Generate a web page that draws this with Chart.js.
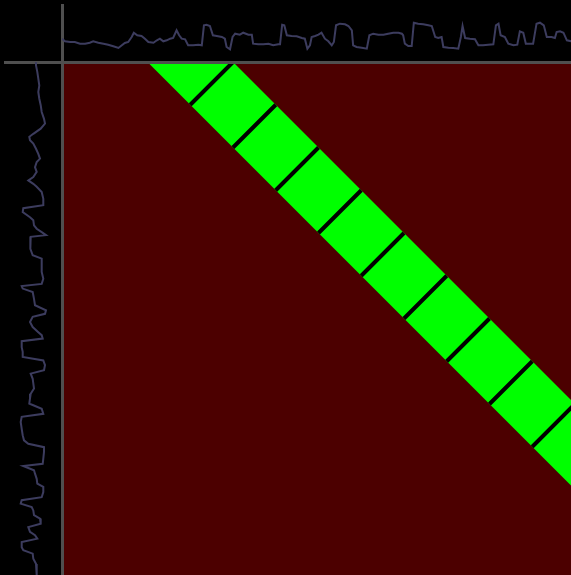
<!DOCTYPE html>
<html>
<head>
<meta charset="utf-8">
<script src="https://cdn.jsdelivr.net/npm/chart.js@4"></script>
<style>
  html, body { margin: 0; padding: 0; background: #000; overflow: hidden; }
  canvas { position: absolute; left: 0; top: 0; }
</style>
</head>
<body>
<canvas id="mainChart" width="575" height="575"></canvas>
<canvas id="topChart" width="575" height="575"></canvas>
<canvas id="leftChart" width="575" height="575"></canvas>
<script>
// time span shared by all three panels
const timeMax = 12;

// signal shown above the matrix
const topTime = [0, 0.07, 0.19, 0.3, 0.42, 0.54, 0.65, 0.73, 0.85, 0.97, 1.08, 1.2, 1.32, 1.4, 1.47, 1.55, 1.63, 1.68, 1.76, 1.86,
  1.94, 2.02, 2.14, 2.22, 2.29, 2.37, 2.45, 2.53, 2.6, 2.68, 2.74, 2.8, 2.88, 2.95, 3.07, 3.19, 3.27, 3.32, 3.38, 3.46,
  3.53, 3.62, 3.74, 3.81, 3.85, 3.93, 3.99, 4.05, 4.16, 4.24, 4.36, 4.44, 4.47, 4.59, 4.71, 4.83, 4.94, 5.06, 5.1, 5.15,
  5.2, 5.26, 5.37, 5.49, 5.61, 5.68, 5.74, 5.8, 5.84, 5.92, 6.0, 6.07, 6.15, 6.23, 6.31, 6.36, 6.41, 6.5, 6.62, 6.7,
  6.78, 6.81, 6.89, 7.01, 7.13, 7.19, 7.28, 7.4, 7.52, 7.63, 7.75, 7.87, 7.95, 7.98, 8.02, 8.1, 8.18, 8.23, 8.33, 8.45,
  8.57, 8.65, 8.73, 8.8, 8.88, 8.92, 9.04, 9.15, 9.27, 9.33, 9.37, 9.43, 9.54, 9.66, 9.74, 9.85, 9.97, 10.09, 10.15, 10.21,
  10.26, 10.36, 10.44, 10.56, 10.65, 10.71, 10.79, 10.85, 10.95, 11.02, 11.1, 11.18, 11.27, 11.34, 11.45, 11.53, 11.57, 11.65, 11.73, 11.81,
  11.91, 12.0];
const topValue = [23.3, 20.7, 20, 20, 18.3, 18.3, 19.3, 20.7, 19.3, 18.3, 17.3, 15.7, 14, 16.7, 19, 20, 25, 29.3, 26.7, 26,
  23.3, 20, 19.3, 21.7, 23.3, 20.7, 21.7, 23.3, 24, 31.7, 26.7, 23.3, 22.7, 16.7, 16.7, 17.3, 16.7, 36.7, 37.3, 36,
  26.7, 26, 25, 23.3, 15, 12.7, 25, 28.3, 27.3, 29.3, 27.3, 27.3, 18.3, 17.7, 17.7, 18.3, 16.7, 17.7, 17.7, 37.3,
  36.7, 26.7, 26, 25.7, 24, 23.3, 13.3, 16.7, 25, 26, 27.3, 29.3, 23.3, 20.7, 16.7, 20, 36.7, 38.3, 37.7, 36,
  31.7, 16.7, 15, 14.3, 13.3, 26.7, 28.3, 27.3, 27.3, 28.3, 29.3, 29.3, 28.3, 26.7, 18.3, 16, 16, 39.3, 38.3, 37.7,
  36.7, 36, 25, 24, 25, 15, 14.3, 14, 13.3, 25, 36, 24, 23.3, 22.7, 16.7, 16.7, 17.3, 17.7, 36.7, 38.3,
  26.7, 25, 18.3, 16.7, 17.3, 30.7, 29.3, 18.3, 18.3, 18.3, 38.3, 39.3, 36.7, 25, 25, 24, 30, 30.7, 29.3, 21.7,
  20.7, 20.5];

// signal shown left of the matrix (time runs downward)
const leftTime = [0, 0.08, 0.23, 0.39, 0.55, 0.7, 0.86, 1.01, 1.17, 1.33, 1.44, 1.56, 1.68, 1.75, 1.83, 1.91, 2.03, 2.15, 2.26, 2.34,
  2.46, 2.57, 2.69, 2.77, 2.85, 2.92, 3.04, 3.2, 3.35, 3.42, 3.51, 3.63, 3.7, 3.82, 3.9, 3.98, 4.05, 4.09, 4.21, 4.37,
  4.52, 4.6, 4.76, 4.91, 5.07, 5.19, 5.24, 5.3, 5.38, 5.54, 5.69, 5.81, 5.89, 5.96, 6.08, 6.2, 6.32, 6.39, 6.47, 6.53,
  6.67, 6.78, 6.9, 6.98, 7.09, 7.21, 7.29, 7.41, 7.52, 7.64, 7.76, 7.87, 7.99, 8.03, 8.11, 8.23, 8.3, 8.42, 8.58, 8.73,
  8.85, 8.93, 9.01, 9.12, 9.28, 9.4, 9.45, 9.55, 9.63, 9.75, 9.86, 9.94, 10.06, 10.18, 10.25, 10.33, 10.41, 10.49, 10.6, 10.68,
  10.8, 10.88, 10.99, 11.07, 11.15, 11.23, 11.35, 11.42, 11.5, 11.62, 11.74, 11.85, 11.95, 12.0];
const leftValue = [26, 26, 24.7, 23.7, 22.7, 23.7, 22.7, 21.3, 20.3, 18, 17, 21.3, 28.7, 32.7, 32, 28.7, 26, 23.7, 22, 25.3,
  27, 25.3, 28.7, 33.7, 28.7, 25.3, 20.3, 18.7, 18.7, 38.7, 39.3, 32, 28.7, 28, 25.3, 20.3, 16, 31.3, 32, 31.3,
  29.3, 20.3, 20.3, 20.3, 18.7, 20.3, 40.3, 39.3, 29.3, 28, 27, 16, 17, 29.3, 32, 29.3, 23.7, 20.3, 19.3, 40.3,
  40.3, 39.3, 39.3, 18.7, 17, 18, 31.3, 29.3, 28.7, 28, 31.3, 32, 32.7, 28.7, 20.3, 18.7, 40.3, 41.3, 40.3, 39.3,
  38, 33.7, 18, 18, 18.7, 19.3, 38.7, 28, 27, 25.3, 24.7, 18.7, 18.7, 20.3, 40.3, 41.3, 30.3, 28.7, 28, 22,
  21.3, 33.7, 32, 27, 24.7, 40.3, 40.3, 38.7, 29.3, 28.7, 26, 25.3, 25.3, 25.3];

// matrix: band of lags where the two signals match, split into blocks
const bandLag = [2, 4];
const blockEdges = [4, 6, 8, 10, 12, 14, 16, 18, 20];

const lineColor = '#3c3c5e';
const spineColor = '#4f4f4f';
const bgRed = '#4c0000';
const bandGreen = '#00ff00';

const hidden = { display: false };
function spine(show) {
  return {
    display: true,
    grid: { display: false, drawTicks: false },
    ticks: { display: false },
    border: { display: show, color: spineColor, width: 3 }
  };
}

// top signal
new Chart(document.getElementById('topChart'), {
  type: 'scatter',
  data: {
    datasets: [{
      data: topTime.map((t, i) => ({ x: t, y: topValue[i] })),
      showLine: true, borderColor: lineColor, borderWidth: 2, pointRadius: 0, tension: 0
    }]
  },
  options: {
    responsive: false, animation: false,
    layout: { padding: { left: 62, top: 5, right: 0, bottom: 513 } },
    plugins: { legend: hidden, tooltip: { enabled: false } },
    scales: {
      x: { ...spine(true), position: 'bottom', min: 0, max: timeMax },
      y: { ...spine(true), position: 'left', min: 0, max: 57 }
    }
  }
});

// left signal, value grows to the left
new Chart(document.getElementById('leftChart'), {
  type: 'scatter',
  data: {
    datasets: [{
      data: leftTime.map((t, i) => ({ x: leftValue[i], y: t })),
      showLine: true, borderColor: lineColor, borderWidth: 2, pointRadius: 0, tension: 0
    }]
  },
  options: {
    responsive: false, animation: false,
    layout: { padding: { left: 5, top: 62, right: 513, bottom: 0 } },
    plugins: { legend: hidden, tooltip: { enabled: false } },
    scales: {
      x: { ...spine(true), position: 'top', min: 0, max: 57, reverse: true },
      y: { ...spine(true), position: 'right', min: 0, max: timeMax, reverse: true }
    }
  }
});

// matrix panel
const frame = [{ x: 0, y: 0 }, { x: timeMax, y: 0 }, { x: timeMax, y: timeMax }, { x: 0, y: timeMax }, { x: 0, y: 0 }];
const band = [
  { x: bandLag[0], y: 0 }, { x: bandLag[1], y: 0 },
  { x: timeMax, y: timeMax - bandLag[1] }, { x: timeMax, y: timeMax - bandLag[0] },
  { x: bandLag[0], y: 0 }
];
const dividers = [];
blockEdges.forEach(s => {
  dividers.push({ x: (s + bandLag[1]) / 2, y: (s - bandLag[1]) / 2 });
  dividers.push({ x: (s + bandLag[0]) / 2, y: (s - bandLag[0]) / 2 });
  dividers.push({ x: null, y: null });
});

new Chart(document.getElementById('mainChart'), {
  type: 'scatter',
  data: {
    datasets: [
      { data: frame, order: 3, showLine: true, fill: 'shape', backgroundColor: bgRed, borderWidth: 0, borderColor: bgRed, pointRadius: 0 },
      { data: band, order: 2, showLine: true, fill: 'shape', backgroundColor: bandGreen, borderWidth: 0, borderColor: bandGreen, pointRadius: 0 },
      { data: dividers, order: 1, showLine: true, spanGaps: false, borderColor: '#000', borderWidth: 4, pointRadius: 0 }
    ]
  },
  options: {
    responsive: false, animation: false,
    layout: { padding: { left: 62, top: 62, right: 0, bottom: 0 } },
    plugins: { legend: hidden, tooltip: { enabled: false } },
    scales: {
      x: { display: false, min: 0, max: timeMax },
      y: { display: false, min: 0, max: timeMax, reverse: true }
    }
  }
});
</script>
</body>
</html>
